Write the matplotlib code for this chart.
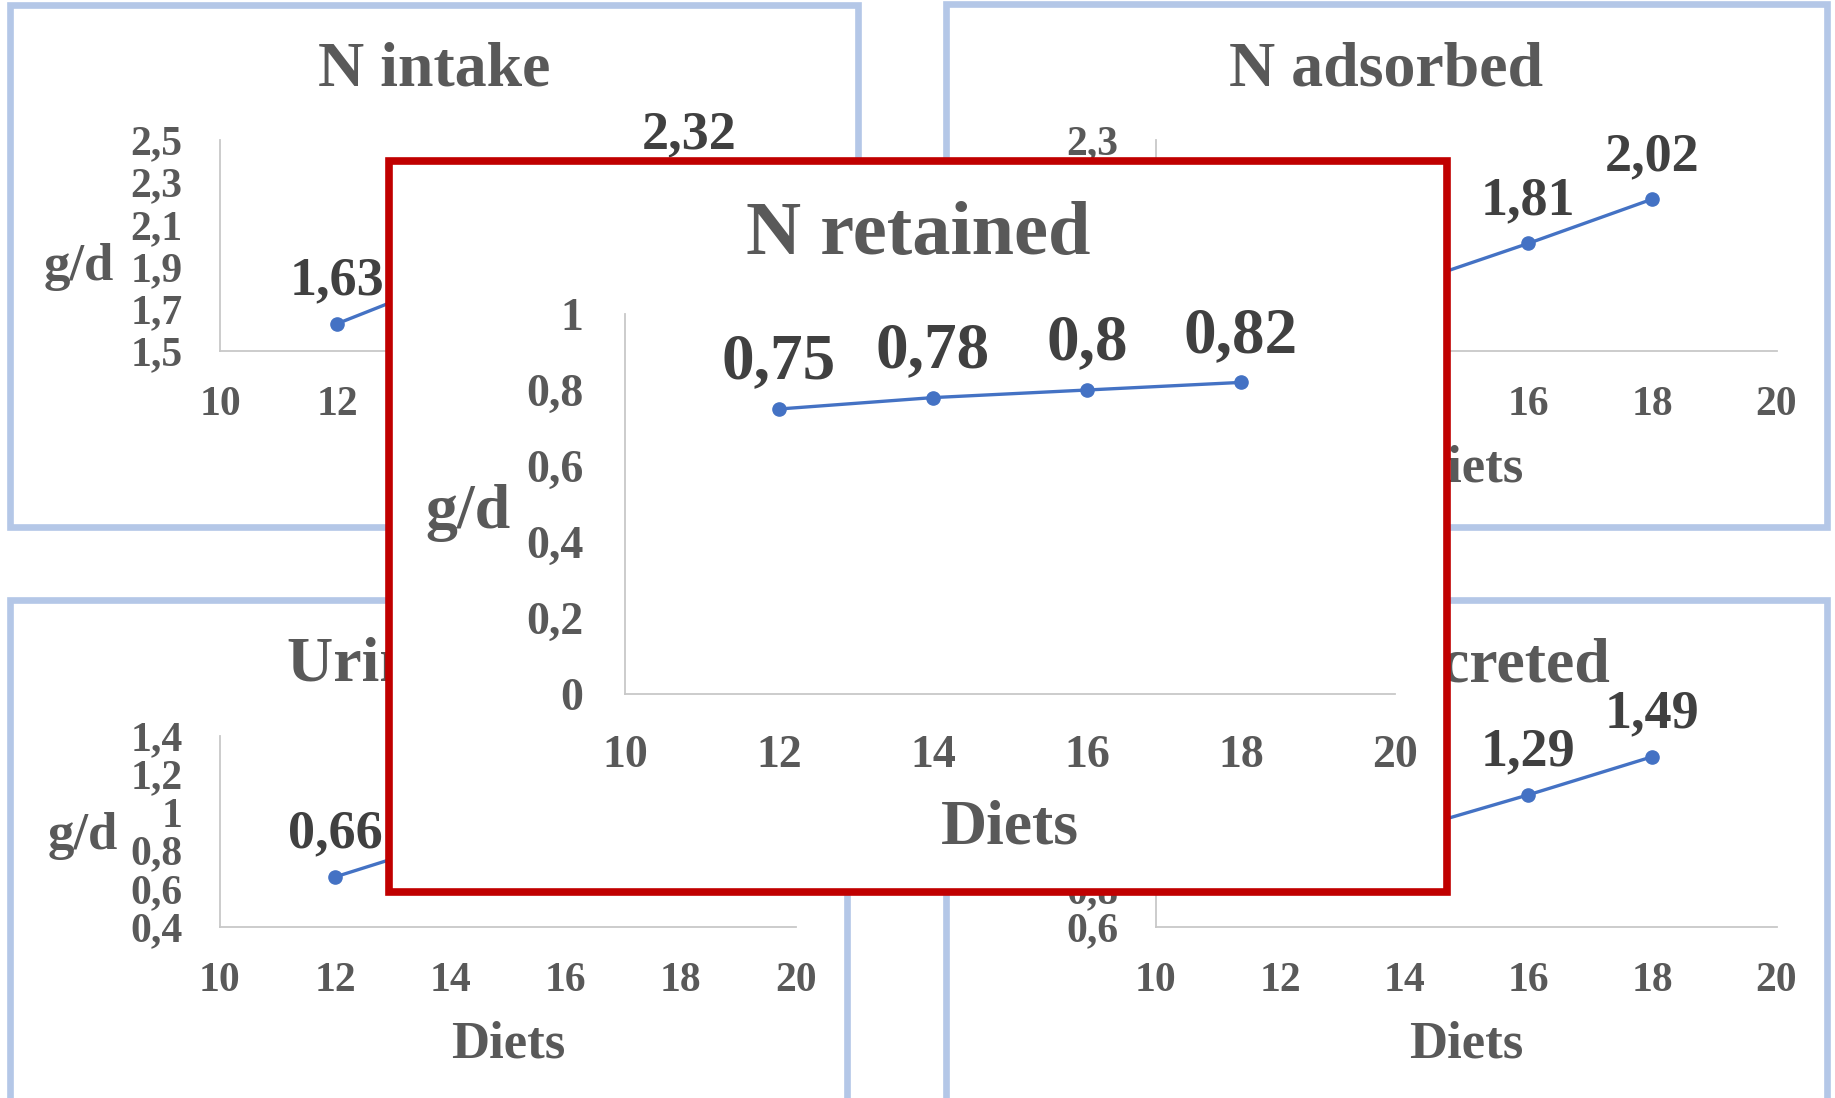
import matplotlib
matplotlib.use("Agg")
import matplotlib.pyplot as plt
from matplotlib.patches import Rectangle
from matplotlib.ticker import FuncFormatter

# data
diets = [12, 14, 16, 18]
x_ticks = [10, 12, 14, 16, 18, 20]

n_intake = [1.63, 1.85, 2.09, 2.32]
n_adsorbed = [1.41, 1.61, 1.81, 2.02]
n_retained = [0.75, 0.78, 0.8, 0.82]
urinary_n = [0.66, 0.85, 1.01, 1.20]
n_excreted = [0.88, 1.10, 1.29, 1.49]

intake_ticks = [1.5, 1.7, 1.9, 2.1, 2.3, 2.5]
adsorbed_ticks = [1.3, 1.5, 1.7, 1.9, 2.1, 2.3]
retained_ticks = [0, 0.2, 0.4, 0.6, 0.8, 1]
urinary_ticks = [0.4, 0.6, 0.8, 1, 1.2, 1.4]
excreted_ticks = [0.6, 0.8, 1, 1.2, 1.4, 1.6]

plt.rcParams['font.family'] = ['Liberation Serif', 'DejaVu Serif']
plt.rcParams['font.weight'] = 'bold'

W, H = 1835, 1098
GREY = '#595959'
DARK = '#404040'
LINE = '#4472C4'
AXIS = '#C8C8C8'

fig = plt.figure(figsize=(W / 100, H / 100), dpi=100)
fig.patch.set_facecolor('white')


def box(x0, y0, x1, y1):
    # pixel box (y from top) -> figure fraction rect
    return [x0 / W, 1 - y1 / H, (x1 - x0) / W, (y1 - y0) / H]


def comma(v, pos=None):
    return f'{round(v, 2):g}'.replace('.', ',')


def panel(frame, plot, z, edge, edge_lw, title, title_pos, title_size,
          gd_pos, diets_pos, lab_size, y, yticks, tick_size, data_size,
          data_off, ypad, xpad):
    fr = fig.add_axes(box(*frame), zorder=z)
    fr.axis('off')
    fr.add_patch(Rectangle((0, 0), 1, 1, transform=fr.transAxes, facecolor='white',
                           edgecolor=edge, lw=edge_lw, clip_on=False))
    fr.text(title_pos[0] / W, 1 - title_pos[1] / H, title, transform=fig.transFigure,
            ha='center', va='baseline', fontsize=title_size, color=GREY)
    fr.text(gd_pos[0] / W, 1 - gd_pos[1] / H, 'g/d', transform=fig.transFigure,
            ha='center', va='baseline', fontsize=lab_size, color=GREY)
    fr.text(diets_pos[0] / W, 1 - diets_pos[1] / H, 'Diets', transform=fig.transFigure,
            ha='center', va='baseline', fontsize=lab_size, color=GREY)

    ax = fig.add_axes(box(*plot), zorder=z + 1)
    ax.patch.set_alpha(0)
    ax.plot(diets, y, color=LINE, lw=2.4, marker='o', ms=9.5, clip_on=False)
    for xv, yv in zip(diets, y):
        ax.annotate(comma(yv), (xv, yv), xytext=(0, data_off), textcoords='offset points',
                    ha='center', va='baseline', fontsize=data_size, color=DARK)
    ax.set_xlim(x_ticks[0], x_ticks[-1])
    ax.set_ylim(yticks[0], yticks[-1])
    ax.set_xticks(x_ticks)
    ax.set_yticks(yticks)
    ax.yaxis.set_major_formatter(FuncFormatter(comma))
    ax.tick_params(axis='both', length=0, labelsize=tick_size, labelcolor=GREY)
    ax.tick_params(axis='y', pad=ypad)
    ax.tick_params(axis='x', pad=xpad)
    for s in ['top', 'right']:
        ax.spines[s].set_visible(False)
    for s in ['left', 'bottom']:
        ax.spines[s].set_color(AXIS)
        ax.spines[s].set_linewidth(1.3)
    return ax


BLUE = '#B4C7E7'
RED = '#C00000'

# top left
panel((10, 5, 858, 527), (220, 140, 807, 351), 1, BLUE, 4.8, 'N intake', (434, 85.5), 46,
      (79, 280), (513, 481.5), 38, n_intake, intake_ticks, 30, 39, 21, 27, 25.5)
# top right
panel((946, 4, 1827, 527), (1156, 140, 1776.5, 351), 1, BLUE, 4.8, 'N adsorbed', (1386.5, 85.5), 46,
      (1015, 280), (1466, 481.5), 38, n_adsorbed, adsorbed_ticks, 30, 39, 21, 27, 25.5)
# bottom left
panel((10, 600, 847, 1110), (220, 735.7, 796, 926.5), 1, BLUE, 4.8, 'Urinary N', (428.5, 681), 46,
      (83, 849), (508, 1057), 38, urinary_n, urinary_ticks, 30, 39, 21, 27, 25.5)
# bottom right
panel((946, 600, 1827, 1110), (1156, 735.7, 1776.5, 926.5), 1, BLUE, 4.8, 'Total N excreted',
      (1386.5, 681), 46, (1015, 849), (1466, 1057), 38, n_excreted, excreted_ticks, 30, 39, 21, 27, 25.5)
# centre, on top of the others
panel((389, 161, 1447, 892), (625, 314, 1395, 694), 10, RED, 5.5, 'N retained', (918, 254), 55,
      (468, 528), (1010, 844), 46, n_retained, retained_ticks, 33, 47, 22, 30, 29.5)

fig.savefig('out.png', dpi=100, facecolor='white')
